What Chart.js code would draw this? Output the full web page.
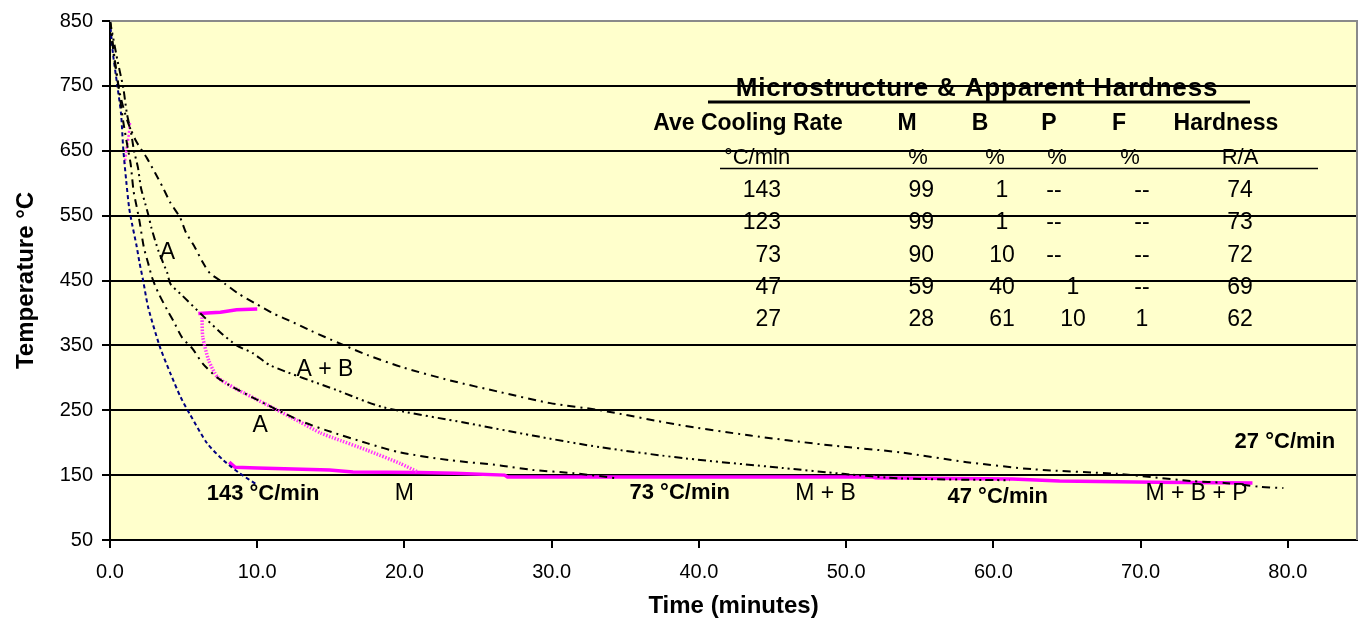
<!DOCTYPE html>
<html>
<head>
<meta charset="utf-8">
<script src="https://cdn.jsdelivr.net/npm/chart.js@4/dist/chart.umd.min.js"></script>
<style>
  html, body { margin: 0; padding: 0; background: #fff; }
  #wrap { width: 1361px; height: 622px; }
</style>
</head>
<body>
<div id="wrap"><canvas id="c" width="1361" height="622"></canvas></div>
<script>
// ---------- axis ticks ----------
const xTicks = [0, 10, 20, 30, 40, 50, 60, 70, 80];
const yTicks = [50, 150, 250, 350, 450, 550, 650, 750, 850];

// ---------- cooling curves (time in minutes, temperature in °C) ----------
const rate143Time = [0, 0.2, 0.5, 0.75, 0.9, 1.1, 1.3, 1.5, 1.8, 2.0, 2.25, 2.6, 3.4, 4.1, 4.8, 5.4, 6.6, 7.7, 8.8, 10.0];
const rate143Temp = [850, 800, 750, 707, 653, 604, 562, 537, 504, 478, 450, 408, 347, 307, 270, 245, 199, 173, 153, 135];

const rate73Time = [0, 0.3, 0.6, 0.9, 1.2, 1.4, 1.6, 1.8, 2.0, 2.3, 2.6, 2.85, 3.26, 3.9, 4.3, 4.9, 5.6, 6.3, 7.3, 8.4, 10.7, 12.9, 14.7, 17.5, 19.7, 23.1, 26.5, 28.7, 31.5, 34.5];
const rate73Temp = [850, 795, 745, 695, 655, 630, 588, 565, 542, 501, 476, 455, 432, 404, 388, 362, 345, 322, 300, 285, 258, 234, 219, 199, 185, 173, 165, 158, 153, 145];

const rate47Time = [0, 0.5, 0.9, 1.15, 1.43, 1.63, 1.9, 2.1, 2.4, 2.65, 2.8, 3.3, 3.9, 4.1, 4.9, 6.2, 7.5, 8.6, 9.7, 10.9, 15.4, 18.5, 24.3, 28.7, 33.3, 39.0, 45.7, 49.8, 53.7, 61.1];
const rate47Temp = [850, 790, 747, 707, 678, 650, 624, 593, 568, 547, 532, 495, 461, 445, 427, 398, 370, 350, 338, 319, 281, 255, 230, 211, 193, 176, 161, 152, 145, 142];

const rate27Time = [0, 0.3, 0.7, 1.2, 1.77, 2.5, 3.06, 3.6, 4.1, 4.76, 5.16, 5.77, 6.3, 6.8, 7.8, 8.7, 9.85, 11.1, 12.2, 13.6, 15.6, 17.5, 19.9, 23.1, 26.5, 29.9, 33.3, 38.5, 43.5, 48.5, 53.7, 58.2, 62.7, 68.4, 70.7, 73.4, 75.7, 78.1, 79.7];
const rate27Temp = [850, 790, 735, 695, 665, 639, 616, 593, 570, 547, 524, 501, 478, 461, 445, 430, 415, 399, 388, 373, 353, 335, 316, 296, 278, 261, 250, 228, 211, 197, 185, 170, 159, 152, 147, 141, 138, 132, 130];

// ---------- transformation lines ----------
const msTime = [8.1, 8.5, 10, 14.9, 16.5, 21, 23.4, 26.8, 27, 40, 51.8, 52, 61.3, 64.5, 71, 77.6];
const msTemp = [170, 162, 161, 158, 155, 154, 153, 150, 147, 147, 147, 146, 144, 141, 139, 138];

const bsTime = [6.0, 7.5, 8.6, 10.0];
const bsTemp = [399, 401, 405, 406];

const bfTime = [6.25, 6.3, 6.7, 7.3, 8.4, 10.7, 12.9, 14.3, 15.1, 17.5, 19.7, 20.9];
const bfTemp = [393, 363, 327, 301, 285, 258, 232, 215, 208, 188, 168, 155];

const topTime = [1.36, 1.25, 1.1, 1.0];
const topTemp = [693, 670, 650, 630];

// ---------- in-plot labels ----------
const regionLabels = ['A', 'A + B', 'A', 'M', 'M + B', 'M + B + P'];
const regionX = [3.9, 14.6, 10.2, 20.0, 48.6, 73.8];
const regionY = [493, 312, 227, 122, 122, 122];

const rateLabels = ['143 °C/min', '73 °C/min', '47 °C/min', '27 °C/min'];
const rateLabelX = [10.4, 38.7, 60.3, 79.8];
const rateLabelY = [121, 123, 117, 201];

// ---------- table ----------
const tableTitle = 'Microstructure & Apparent Hardness';
const tableHeads = ['Ave Cooling Rate', 'M', 'B', 'P', 'F', 'Hardness'];
const tableUnits = ['°C/min', '%', '%', '%', '%', 'R/A'];
const coolRates = ['143', '123', '73', '47', '27'];
const pctM = ['99', '99', '90', '59', '28'];
const pctB = ['1', '1', '10', '40', '61'];
const pctP = ['--', '--', '--', '1', '10'];
const pctF = ['--', '--', '--', '--', '1'];
const hardness = ['74', '73', '72', '69', '62'];

function zip(xs, ys) { return xs.map((x, i) => ({ x: x, y: ys[i] })); }

const FONT = 'Liberation Sans, Arial, Helvetica, sans-serif';

const bgPlugin = {
  id: 'bg',
  beforeDraw(chart) {
    const { ctx, chartArea: a } = chart;
    ctx.save();
    ctx.fillStyle = '#FFFFCC';
    ctx.fillRect(a.left, a.top, a.right - a.left, a.bottom - a.top);
    ctx.restore();
  },
  afterDraw(chart) {
    const { ctx, chartArea: a } = chart;
    ctx.save();
    ctx.strokeStyle = '#8a8a8a';
    ctx.lineWidth = 2;
    ctx.beginPath();
    ctx.moveTo(a.left, a.top);
    ctx.lineTo(a.right, a.top);
    ctx.lineTo(a.right, a.bottom);
    ctx.stroke();
    ctx.restore();
  }
};

const textPlugin = {
  id: 'texts',
  afterDatasetsDraw(chart) {
    const { ctx, scales } = chart;
    const sx = scales.x, sy = scales.y;
    ctx.save();
    ctx.fillStyle = '#000';
    ctx.textBaseline = 'middle';
    ctx.textAlign = 'center';
    ctx.font = '23px ' + FONT;
    regionLabels.forEach((t, i) => {
      ctx.fillText(t, sx.getPixelForValue(regionX[i]), sy.getPixelForValue(regionY[i]));
    });
    ctx.font = 'bold 22px ' + FONT;
    rateLabels.forEach((t, i) => {
      ctx.fillText(t, sx.getPixelForValue(rateLabelX[i]), sy.getPixelForValue(rateLabelY[i]));
    });

    // table
    ctx.textBaseline = 'alphabetic';
    ctx.font = 'bold 26px ' + FONT;
    try { ctx.letterSpacing = '0.8px'; } catch (e) {}
    ctx.fillText(tableTitle, 977, 96);
    try { ctx.letterSpacing = '0px'; } catch (e) {}
    ctx.strokeStyle = '#000';
    ctx.lineWidth = 3;
    ctx.beginPath(); ctx.moveTo(708, 102); ctx.lineTo(1250, 102); ctx.stroke();

    ctx.font = 'bold 23px ' + FONT;
    const headX = [748, 907, 980, 1049, 1119, 1226];
    tableHeads.forEach((t, i) => ctx.fillText(t, headX[i], 130));

    ctx.font = '22px ' + FONT;
    const unitX = [757, 918, 995, 1057, 1130, 1240];
    tableUnits.forEach((t, i) => ctx.fillText(t, unitX[i], 164));
    ctx.lineWidth = 1.5;
    ctx.beginPath(); ctx.moveTo(720, 168.5); ctx.lineTo(1318, 168.5); ctx.stroke();

    const rowY = [197, 229, 262, 294, 326];
    ctx.font = '23px ' + FONT;
    rowY.forEach((y, r) => {
      ctx.textAlign = 'right';
      ctx.fillText(coolRates[r], 781, y);
      ctx.fillText(pctM[r], 934, y);
      ctx.textAlign = 'center';
      ctx.fillText(pctB[r], 1002, y);
      ctx.fillText(pctP[r], pctP[r] === '--' ? 1054 : 1073, y);
      ctx.fillText(pctF[r], 1142, y);
      ctx.fillText(hardness[r], 1240, y);
    });
    ctx.restore();
  }
};

function line(data, color, width, dash) {
  return {
    data: data, showLine: true, borderColor: color, backgroundColor: color,
    borderWidth: width, borderDash: dash, pointRadius: 0, tension: 0.25, fill: false
  };
}

new Chart(document.getElementById('c'), {
  type: 'scatter',
  data: {
    datasets: [
      line(zip(rate27Time, rate27Temp), '#000', 2, [8, 5, 2, 5]),
      line(zip(rate47Time, rate47Temp), '#000', 2, [8, 4, 2, 4, 2, 4]),
      line(zip(rate73Time, rate73Temp), '#000', 2, [8, 5, 2, 5]),
      line(zip(rate143Time, rate143Temp), '#000080', 2, [4, 3]),
      Object.assign(line(zip(bfTime, bfTemp), '#FF33FF', 3.5, [1.5, 1.5]), { tension: 0.2 }),
      Object.assign(line(zip(topTime, topTemp), '#FF33FF', 2.5, [2, 2]), { tension: 0 }),
      Object.assign(line(zip(bsTime, bsTemp), '#FF00FF', 3.5, []), { tension: 0 }),
      Object.assign(line(zip(msTime, msTemp), '#FF00FF', 3.5, []), { tension: 0 })
    ]
  },
  options: {
    responsive: false,
    animation: false,
    layout: { padding: { top: 20, right: 4, left: 0, bottom: 0 } },
    plugins: { legend: { display: false }, tooltip: { enabled: false } },
    scales: {
      x: {
        type: 'linear', min: 0, max: 84.7,
        afterBuildTicks: s => { s.ticks = xTicks.map(v => ({ value: v })); },
        afterFit: s => { s.height = 82; },
        ticks: { callback: v => Number(v).toFixed(1), color: '#000', font: { family: FONT, size: 20 }, padding: 12, maxRotation: 0 },
        grid: { drawOnChartArea: false, drawTicks: true, tickLength: 8, color: '#000', tickColor: '#000', lineWidth: 2 },
        border: { display: true, color: '#000', width: 2 },
        title: { display: true, text: 'Time (minutes)', color: '#000', font: { family: FONT, size: 24, weight: 'bold' }, padding: { top: 0, bottom: 1 } }
      },
      y: {
        type: 'linear', min: 50, max: 850,
        afterBuildTicks: s => { s.ticks = yTicks.map(v => ({ value: v })); },
        afterFit: s => { s.width = 110; },
        ticks: { color: '#000', font: { family: FONT, size: 20 }, padding: 9 },
        grid: {
          drawOnChartArea: true, drawTicks: true, tickLength: 8,
          color: c => (c.tick && c.tick.value === 850) ? 'rgba(0,0,0,0)' : '#000',
          tickColor: '#000', lineWidth: 2
        },
        border: { display: true, color: '#000', width: 2 },
        title: { display: true, text: 'Temperature °C', color: '#000', font: { family: FONT, size: 24, weight: 'bold' }, padding: { top: 12, bottom: 0 } }
      }
    }
  },
  plugins: [bgPlugin, textPlugin]
});
</script>
</body>
</html>
